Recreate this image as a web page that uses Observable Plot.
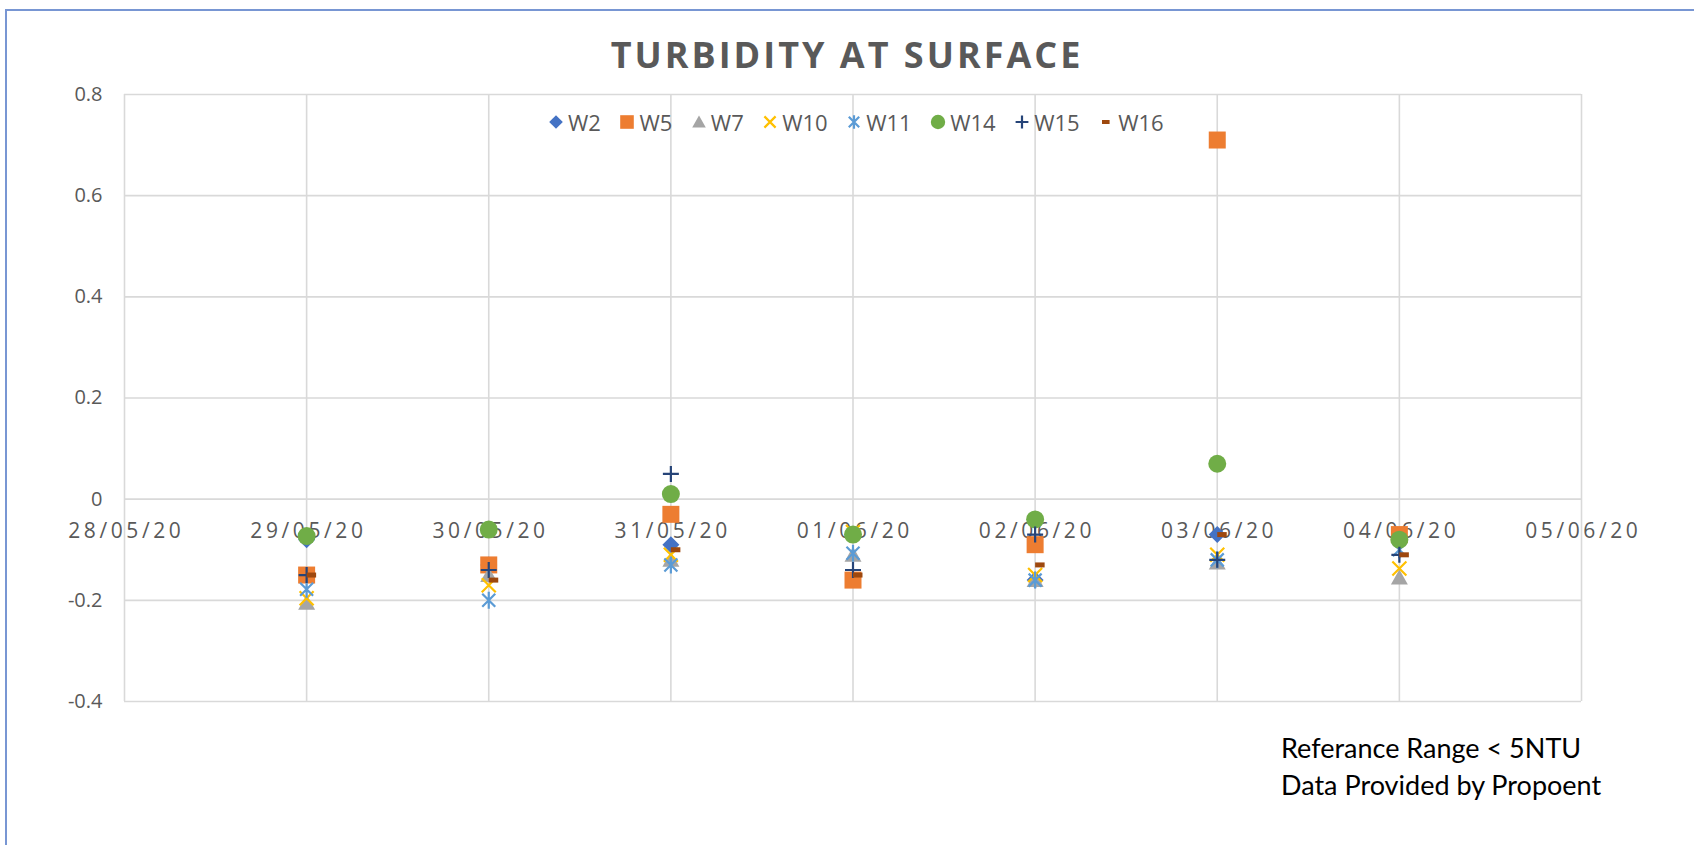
<!DOCTYPE html>
<html>
<head>
<meta charset="utf-8">
<script src="https://cdn.jsdelivr.net/npm/d3@7"></script>
<script src="https://cdn.jsdelivr.net/npm/@observablehq/plot@0.6"></script>
<style>
  html, body { margin: 0; background: #fff; overflow: hidden; }
  #wrap { position: relative; width: 1694px; height: 845px; overflow: hidden; background: #fff; }
  #frameTop { position: absolute; left: 5px; top: 9px; width: 1689px; height: 2px; background: #7896d3; }
  #frameLeft { position: absolute; left: 5px; top: 9px; width: 2px; height: 836px; background: #7896d3; }
  #chart { position: absolute; left: 0; top: 0; }
  #title { position: absolute; left: 0; width: 1694px; top: 30px; text-align: center;
           font-family: "Open Sans", sans-serif; font-weight: 700; font-size: 36px;
           letter-spacing: 3px; color: #595959; }
  #legend { position: absolute; top: 107px; left: 546px; display: flex; align-items: center;
            font-family: "Open Sans", sans-serif; font-size: 22px; color: #595959; }
  .item { display: flex; align-items: center; margin-right: 16.5px; }
  .item svg { margin-right: 2px; }
  #caption { position: absolute; left: 1281px; top: 729px; font-family: Lato, sans-serif;
             font-size: 27px; line-height: 37px; color: #000; }
</style>
</head>
<body>
<div id="wrap">
  <div id="chart"></div>
  <div id="frameTop"></div>
  <div id="frameLeft"></div>
  <div id="title"></div>
  <div id="legend"></div>
  <div id="caption">Referance Range &lt; 5NTU<br>Data Provided by Propoent</div>
</div>
<script>
// ---------- data ----------
const dates = ["2020-05-29", "2020-05-30", "2020-05-31", "2020-06-01", "2020-06-02", "2020-06-03", "2020-06-04"];
const seriesNames = ["W2", "W5", "W7", "W10", "W11", "W14", "W15", "W16"];
const W2  = [-0.08, -0.13, -0.09, -0.07, -0.16, -0.07, -0.08];
const W5  = [-0.15, -0.13, -0.03, -0.16, -0.09,  0.71, -0.07];
const W7  = [-0.205, -0.15, -0.12, -0.11, -0.16, -0.125, -0.155];
const W10 = [-0.196, -0.17, -0.11, -0.065, -0.15, -0.11, -0.137];
const W11 = [-0.178, -0.2, -0.13, -0.107, -0.16, -0.12, -0.10];
const W14 = [-0.073, -0.06, 0.01, -0.07, -0.04, 0.07, -0.08];
const W15 = [-0.15, -0.14, 0.05, -0.14, -0.07, -0.12, -0.11];
const W16 = [-0.15, -0.16, -0.10, -0.15, -0.13, -0.07, -0.11];
const xTickDates = ["2020-05-28", "2020-05-29", "2020-05-30", "2020-05-31", "2020-06-01", "2020-06-02", "2020-06-03", "2020-06-04", "2020-06-05"];
const xTickLabels = ["28/05/20", "29/05/20", "30/05/20", "31/05/20", "01/06/20", "02/06/20", "03/06/20", "04/06/20", "05/06/20"];
const yTicks = [-0.4, -0.2, 0, 0.2, 0.4, 0.6, 0.8];
const title = "TURBIDITY AT SURFACE";

const valuesBy = {W2, W5, W7, W10, W11, W14, W15, W16};

// ---------- styles ----------
const sym = {
  diamond: {draw(c) { const h = 8.5; c.moveTo(0, -h); c.lineTo(h, 0); c.lineTo(0, h); c.lineTo(-h, 0); c.closePath(); }},
  square: {draw(c) { const h = 8.5; c.moveTo(-h, -h); c.lineTo(h, -h); c.lineTo(h, h); c.lineTo(-h, h); c.closePath(); }},
  triangle: {draw(c) { c.moveTo(0, -8); c.lineTo(8.5, 7); c.lineTo(-8.5, 7); c.closePath(); }},
  times: {draw(c) { const h = 7; c.moveTo(-h, -h); c.lineTo(h, h); c.moveTo(h, -h); c.lineTo(-h, h); }},
  star: {draw(c) { const h = 6.5; c.moveTo(-h, -h); c.lineTo(h, h); c.moveTo(h, -h); c.lineTo(-h, h); c.moveTo(0, -8.5); c.lineTo(0, 8.5); }},
  circle: {draw(c) { c.moveTo(9, 0); c.arc(0, 0, 9, 0, 2 * Math.PI); c.closePath(); }},
  plus: {draw(c) { const h = 8; c.moveTo(-h, 0); c.lineTo(h, 0); c.moveTo(0, -h); c.lineTo(0, h); }},
  dash: {draw(c) { c.moveTo(0, -2.5); c.lineTo(9.5, -2.5); c.lineTo(9.5, 2.5); c.lineTo(0, 2.5); c.closePath(); }}
};
const styles = {
  W2:  {color: "#4472c4", symbol: "diamond", filled: true},
  W5:  {color: "#ed7d31", symbol: "square", filled: true},
  W7:  {color: "#a5a5a5", symbol: "triangle", filled: true},
  W10: {color: "#ffc000", symbol: "times", filled: false},
  W11: {color: "#5b9bd5", symbol: "star", filled: false},
  W14: {color: "#70ad47", symbol: "circle", filled: true},
  W15: {color: "#264478", symbol: "plus", filled: false},
  W16: {color: "#9e480e", symbol: "dash", filled: true}
};

const parse = s => new Date(s + "T00:00:00Z");
const rows = seriesNames.map(name => dates.map((d, i) => ({series: name, date: parse(d), value: valuesBy[name][i]})));

const gridColor = "#d9d9d9";
const xLabelSpacing = 3.6;
const dotMarks = rows.map((data, k) => {
  const st = styles[seriesNames[k]];
  return Plot.dot(data.filter(d => d.value != null), {
    x: "date", y: "value", r: 5, symbol: sym[st.symbol],
    fill: st.filled ? st.color : "none",
    stroke: st.filled ? "none" : st.color,
    strokeWidth: st.filled ? 0 : 2.2
  });
});

const chart = Plot.plot({
  width: 1694, height: 845,
  marginLeft: 124, marginRight: 113, marginTop: 94, marginBottom: 144,
  x: {type: "utc", domain: [parse(xTickDates[0]), parse(xTickDates[xTickDates.length - 1])], axis: null},
  y: {domain: [-0.4, 0.8], label: null},
  style: {background: "transparent", fontFamily: "'Open Sans', sans-serif"},
  marks: [
    Plot.gridX(xTickDates.map(parse), {stroke: gridColor, strokeOpacity: 1, strokeWidth: 1.6}),
    Plot.gridY(yTicks, {stroke: gridColor, strokeOpacity: 1, strokeWidth: 1.6}),
    Plot.axisY(yTicks, {tickSize: 0, tickPadding: 22, fontSize: 20, fill: "#595959", label: null,
      tickFormat: d => String(+d.toFixed(1))}),
    Plot.text(xTickDates.map((d, i) => ({date: parse(d), label: xTickLabels[i], base: 0})), {
      x: "date", y: "base", text: "label", dy: 32, dx: xLabelSpacing / 2, fontSize: 21, fill: "#595959"
    }),
    ...dotMarks
  ]
});
document.getElementById("chart").appendChild(chart);
chart.querySelectorAll("text").forEach(t => {
  if (xTickLabels.includes(t.textContent)) t.style.letterSpacing = xLabelSpacing + "px";
});
document.getElementById("title").textContent = title;

// legend
const legend = document.getElementById("legend");
for (const name of seriesNames) {
  const st = styles[name];
  const item = document.createElement("div");
  item.className = "item";
  const s = d3.create("svg").attr("width", 20).attr("height", 20);
  const path = d3.path();
  const scale = 0.8;
  sym[st.symbol].draw(path);
  s.append("path").attr("d", path.toString())
    .attr("transform", `translate(${name === "W16" ? 6 : 10},10) scale(${scale})`)
    .attr("fill", st.filled ? st.color : "none")
    .attr("stroke", st.filled ? "none" : st.color)
    .attr("stroke-width", 2.2 / scale);
  item.appendChild(s.node());
  const t = document.createElement("span");
  t.textContent = name;
  item.appendChild(t);
  legend.appendChild(item);
}
</script>
</body>
</html>
